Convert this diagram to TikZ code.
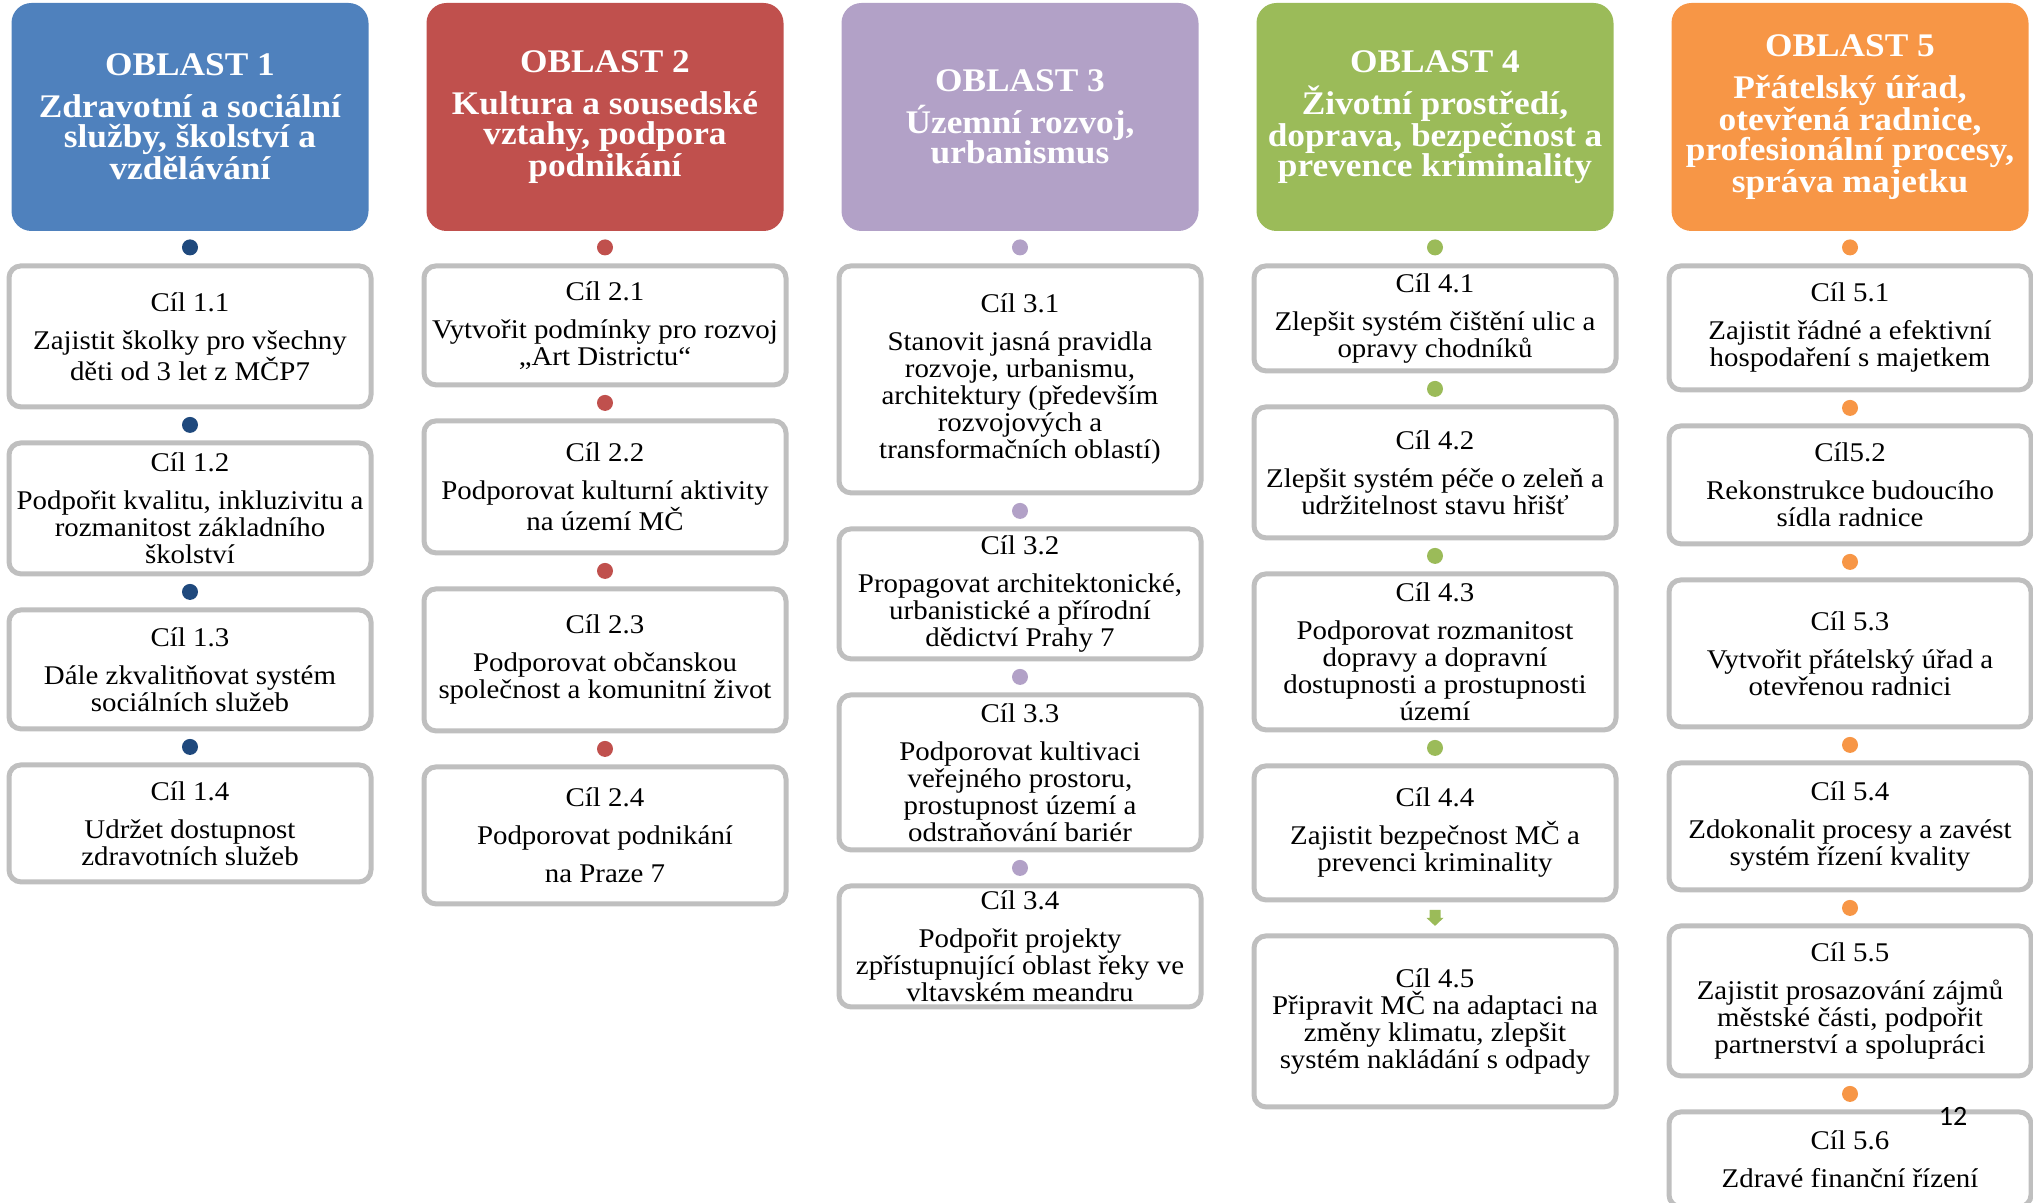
\documentclass[tikz,border=0pt]{standalone}
\usepackage{fontspec}
\setmainfont{Liberation Serif}[FakeStretch=1.07]
\newfontfamily\pagefont{Carlito}
\usepackage{tikz}
\usetikzlibrary{positioning,calc}
\definecolor{oblblue}{RGB}{79,129,189}
\definecolor{obldarkblue}{RGB}{31,73,125}
\definecolor{oblred}{RGB}{192,80,77}
\definecolor{obllilac}{RGB}{178,161,199}
\definecolor{oblgreen}{RGB}{155,187,89}
\definecolor{oblorange}{RGB}{247,150,70}
\definecolor{goalgray}{RGB}{191,191,191}
\tikzstyle{area} = [rectangle, rounded corners=10pt, minimum width=178.5pt, minimum height=114pt, align=center, text=white, font=\fontsize{16.5}{15}\selectfont\bfseries]
\tikzstyle{goal} = [rectangle, rounded corners=6pt, minimum width=181pt, align=center, draw=goalgray, fill=white, line width=2.5pt, inner sep=1pt, font=\fontsize{13.5}{13.5}\selectfont]
\tikzstyle{gdot} = [circle, minimum size=8pt, inner sep=0pt]

\begin{document}
\begin{tikzpicture}[x=0.5pt, y=-0.5pt, node distance=15.5pt]
\useasboundingbox (0,0) rectangle (2033,1203);
% Areas
\node (area1) [area, fill=oblblue] at (190,117) {OBLAST 1\\[6pt]Zdravotní a sociální\\služby, školství a\\vzdělávání};
\node (area2) [area, fill=oblred] at (605,117) {OBLAST 2\\[6pt]Kultura a sousedské\\vztahy, podpora\\podnikání};
\node (area3) [area, fill=obllilac] at (1020,117) {OBLAST 3\\[6pt]Územní rozvoj,\\urbanismus};
\node (area4) [area, fill=oblgreen] at (1435,117) {OBLAST 4\\[6pt]Životní prostředí,\\doprava, bezpečnost a\\prevence kriminality};
\node (area5) [area, fill=oblorange] at (1850,117) {OBLAST 5\\[6pt]Přátelský úřad,\\otevřená radnice,\\profesionální procesy,\\správa majetku};

% Goals 1
\node (goal11) [goal, minimum height=70.5pt, below=16pt of area1] {Cíl 1.1\\[5.5pt]Zajistit školky pro všechny\\děti od 3 let z MČP7};
\node (goal12) [goal, minimum height=65.5pt, below=of goal11] {Cíl 1.2\\[5.5pt]Podpořit kvalitu, inkluzivitu a\\rozmanitost základního\\školství};
\node (goal13) [goal, minimum height=59.5pt, below=of goal12] {Cíl 1.3\\[5.5pt]Dále zkvalitňovat systém\\sociálních služeb};
\node (goal14) [goal, minimum height=58.5pt, below=of goal13] {Cíl 1.4\\[5.5pt]Udržet dostupnost\\zdravotních služeb};

% Goals 2
\node (goal21) [goal, minimum height=59.5pt, below=16pt of area2] {Cíl 2.1\\[5.5pt]Vytvořit podmínky pro rozvoj\\„Art Districtu“};
\node (goal22) [goal, minimum height=66pt, below=of goal21] {Cíl 2.2\\[5.5pt]Podporovat kulturní aktivity\\na území MČ};
\node (goal23) [goal, minimum height=71pt, below=of goal22] {Cíl 2.3\\[5.5pt]Podporovat občanskou\\společnost a komunitní život};
\node (goal24) [goal, minimum height=68.5pt, below=of goal23] {Cíl 2.4\\[5.5pt]Podporovat podnikání\\[5.5pt]na Praze 7};

% Goals 3
\node (goal31) [goal, minimum height=113.5pt, below=16pt of area3] {Cíl 3.1\\[5.5pt]Stanovit jasná pravidla\\rozvoje, urbanismu,\\architektury (především\\rozvojových a\\transformačních oblastí)};
\node (goal32) [goal, minimum height=65pt, below=of goal31] {Cíl 3.2\\[5.5pt]Propagovat architektonické,\\urbanistické a přírodní\\dědictví Prahy 7};
\node (goal33) [goal, minimum height=77.5pt, below=of goal32] {Cíl 3.3\\[5.5pt]Podporovat kultivaci\\veřejného prostoru,\\prostupnost území a\\odstraňování bariér};
\node (goal34) [goal, minimum height=60.5pt, below=of goal33] {Cíl 3.4\\[5.5pt]Podpořit projekty\\zpřístupnující oblast řeky ve\\vltavském meandru};

% Goals 4
\node (goal41) [goal, minimum height=52.5pt, below=16pt of area4] {Cíl 4.1\\[5.5pt]Zlepšit systém čištění ulic a\\opravy chodníků};
\node (goal42) [goal, minimum height=65.5pt, below=of goal41] {Cíl 4.2\\[5.5pt]Zlepšit systém péče o zeleň a\\udržitelnost stavu hřišť};
\node (goal43) [goal, minimum height=78pt, below=of goal42] {Cíl 4.3\\[5.5pt]Podporovat rozmanitost\\dopravy a dopravní\\dostupnosti a prostupnosti\\území};
\node (goal44) [goal, minimum height=67pt, below=of goal43] {Cíl 4.4\\[5.5pt]Zajistit bezpečnost MČ a\\prevenci kriminality};
\node (goal45) [goal, minimum height=85.5pt, below=of goal44] {Cíl 4.5\\Připravit MČ na adaptaci na\\změny klimatu, zlepšit\\systém nakládání s odpady};

% Goals 5
\node (goal51) [goal, minimum height=62pt, below=16pt of area5] {Cíl 5.1\\[5.5pt]Zajistit řádné a efektivní\\hospodaření s majetkem};
\node (goal52) [goal, minimum height=59pt, below=of goal51] {Cíl5.2\\[5.5pt]Rekonstrukce budoucího\\sídla radnice};
\node (goal53) [goal, minimum height=73.5pt, below=of goal52] {Cíl 5.3\\[5.5pt]Vytvořit přátelský úřad a\\otevřenou radnici};
\node (goal54) [goal, minimum height=63.5pt, below=of goal53] {Cíl 5.4\\[5.5pt]Zdokonalit procesy a zavést\\systém řízení kvality};
\node (goal55) [goal, minimum height=75pt, below=of goal54] {Cíl 5.5\\[5.5pt]Zajistit prosazování zájmů\\městské části, podpořit\\partnerství a spolupráci};
\node (goal56) [goal, minimum height=47.5pt, below=of goal55] {Cíl 5.6\\[5.5pt]Zdravé finanční řízení};

% Dots
\node (dot11) [gdot, fill=obldarkblue] at ($(area1.south)!0.5!(goal11.north)$) {};
\node (dot12) [gdot, fill=obldarkblue] at ($(goal11.south)!0.5!(goal12.north)$) {};
\node (dot13) [gdot, fill=obldarkblue] at ($(goal12.south)!0.5!(goal13.north)$) {};
\node (dot14) [gdot, fill=obldarkblue] at ($(goal13.south)!0.5!(goal14.north)$) {};
\node (dot21) [gdot, fill=oblred] at ($(area2.south)!0.5!(goal21.north)$) {};
\node (dot22) [gdot, fill=oblred] at ($(goal21.south)!0.5!(goal22.north)$) {};
\node (dot23) [gdot, fill=oblred] at ($(goal22.south)!0.5!(goal23.north)$) {};
\node (dot24) [gdot, fill=oblred] at ($(goal23.south)!0.5!(goal24.north)$) {};
\node (dot31) [gdot, fill=obllilac] at ($(area3.south)!0.5!(goal31.north)$) {};
\node (dot32) [gdot, fill=obllilac] at ($(goal31.south)!0.5!(goal32.north)$) {};
\node (dot33) [gdot, fill=obllilac] at ($(goal32.south)!0.5!(goal33.north)$) {};
\node (dot34) [gdot, fill=obllilac] at ($(goal33.south)!0.5!(goal34.north)$) {};
\node (dot41) [gdot, fill=oblgreen] at ($(area4.south)!0.5!(goal41.north)$) {};
\node (dot42) [gdot, fill=oblgreen] at ($(goal41.south)!0.5!(goal42.north)$) {};
\node (dot43) [gdot, fill=oblgreen] at ($(goal42.south)!0.5!(goal43.north)$) {};
\node (dot44) [gdot, fill=oblgreen] at ($(goal43.south)!0.5!(goal44.north)$) {};
\node (dot51) [gdot, fill=oblorange] at ($(area5.south)!0.5!(goal51.north)$) {};
\node (dot52) [gdot, fill=oblorange] at ($(goal51.south)!0.5!(goal52.north)$) {};
\node (dot53) [gdot, fill=oblorange] at ($(goal52.south)!0.5!(goal53.north)$) {};
\node (dot54) [gdot, fill=oblorange] at ($(goal53.south)!0.5!(goal54.north)$) {};
\node (dot55) [gdot, fill=oblorange] at ($(goal54.south)!0.5!(goal55.north)$) {};
\node (dot56) [gdot, fill=oblorange] at ($(goal55.south)!0.5!(goal56.north)$) {};

% Arrow
\coordinate (arr45) at ($(goal44.south)!0.5!(goal45.north)$);
\fill[oblgreen] ([shift={(-2.75pt,4pt)}]arr45) -- ++(5.5pt,0pt) -- ++(0pt,-4pt) -- ++(1.5pt,0pt)
  -- ++(-4.25pt,-4pt) -- ++(-4.25pt,4pt) -- ++(1.5pt,0pt) -- cycle;

% Page number
\node (pagenum) at (1953,1116) {\pagefont\fontsize{14}{14}\selectfont 12};
\end{tikzpicture}
\end{document}
